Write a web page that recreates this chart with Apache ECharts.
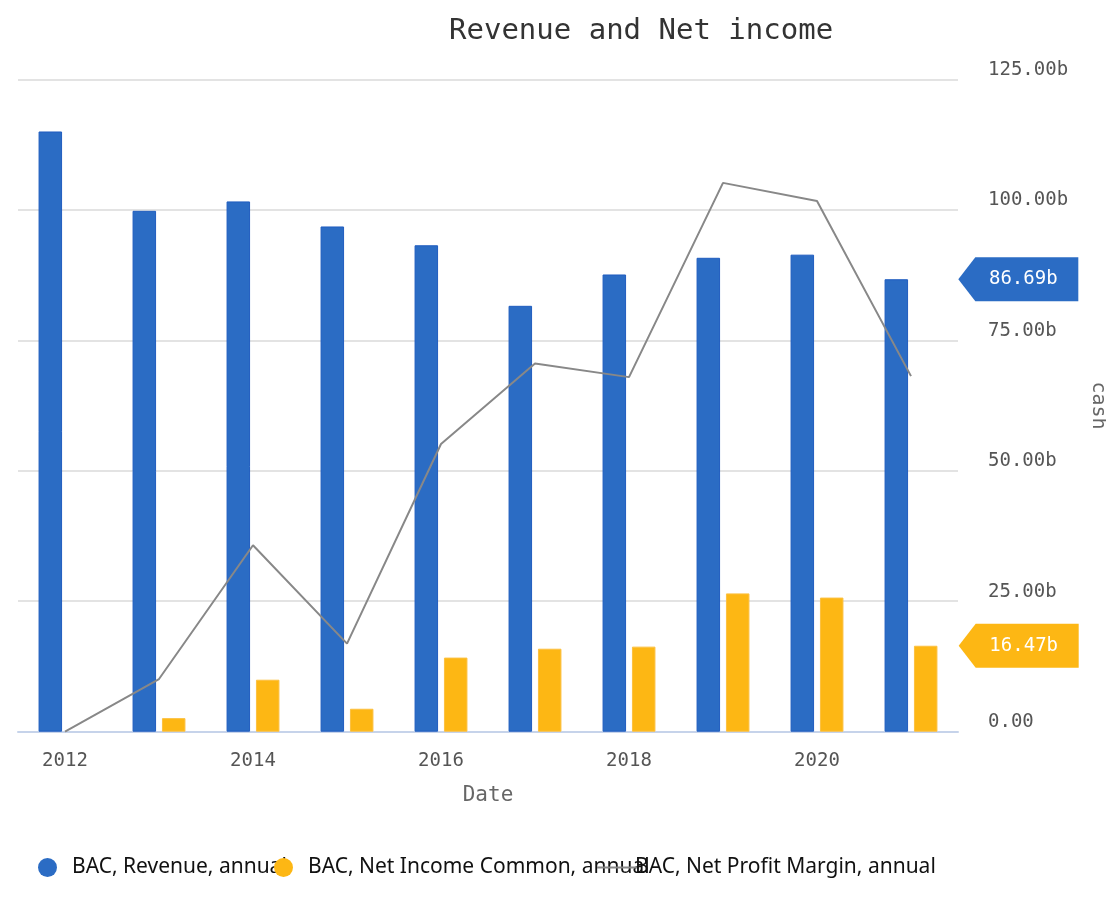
<!DOCTYPE html>
<html>
<head>
<meta charset="utf-8">
<script src="https://cdn.jsdelivr.net/npm/echarts@6/dist/echarts.min.js"></script>
<style>
html,body{margin:0;padding:0;background:#fff;}
#chart{width:1106px;height:914px;}
</style>
</head>
<body>
<div id="chart"></div>
<script>
const years = ['2012','2013','2014','2015','2016','2017','2018','2019','2020','2021'];
const revenue = [115.0, 99.8, 101.6, 96.8, 93.2, 81.6, 87.6, 90.8, 91.4, 86.69];
const netIncome = [null, 2.6, 9.96, 4.4, 14.2, 15.9, 16.3, 26.5, 25.7, 16.47];
const netMargin = [0.0, 3.23, 11.43, 5.40, 17.64, 22.58, 21.74, 33.65, 32.54, 21.80];
const yTicks = { min: 0, max: 125, interval: 25 };

const mono = 'DejaVu Sans Mono';
const blue = '#2b6cc4';
const yellow = '#fdb714';
const tagPath = 'path://M0,22 L17,0 L120,0 L120,44 L17,44 Z';

const chart = echarts.init(document.getElementById('chart'));
const lastIdx = years.length - 1;

function tag(value, color, offX) {
  return {
    silent: true,
    symbol: tagPath,
    symbolSize: [120, 44],
    symbolOffset: [offX, 0],
    itemStyle: { color: color },
    label: {
      show: true, position: 'inside', color: '#fff', fontFamily: mono, fontSize: 19,
      offset: [5, 0],
      formatter: function () { return value.toFixed(2) + 'b'; }
    },
    data: [{ coord: [years[lastIdx], value] }]
  };
}

const legendText = { fontFamily: 'Noto Sans', fontSize: 21, color: '#111', padding: [0, 0, 0, 10] };

const option = {
  backgroundColor: '#fff',
  animation: false,
  title: {
    text: 'Revenue and Net income',
    left: 444, top: 12,
    textStyle: { fontFamily: mono, fontSize: 29, fontWeight: 'normal', color: '#333' }
  },
  legend: [
    {
      data: ['BAC, Revenue, annual'], left: 33, top: 852, icon: 'circle',
      itemWidth: 19, itemHeight: 19, itemGap: 0,
      itemStyle: { borderWidth: 0 },
      textStyle: legendText
    },
    {
      data: ['BAC, Net Income Common, annual'], left: 269, top: 852, icon: 'circle',
      itemWidth: 19, itemHeight: 19, itemGap: 0,
      itemStyle: { borderWidth: 0 },
      textStyle: legendText
    },
    {
      data: ['BAC, Net Profit Margin, annual'], left: 591, top: 852,
      itemWidth: 42, itemHeight: 19, itemGap: 0,
      itemStyle: { opacity: 0 },
      lineStyle: { color: '#888', width: 2 },
      textStyle: Object.assign({}, legendText, { padding: [0, 0, 0, -9] })
    }
  ],
  grid: { left: 18, right: 148, top: 79.3, bottom: 182.3, containLabel: false, outerBoundsMode: 'none' },
  xAxis: {
    type: 'category',
    data: years,
    name: 'Date',
    nameLocation: 'middle',
    nameGap: 53,
    nameTextStyle: { fontFamily: mono, fontSize: 21, color: '#666' },
    axisLine: { lineStyle: { color: '#c6d3ea', width: 2 } },
    axisTick: { alignWithLabel: true, interval: 1, length: 16, lineStyle: { color: '#c6d3ea', width: 2 } },
    axisLabel: { interval: 1, fontFamily: mono, fontSize: 19, color: '#555', margin: 20 }
  },
  yAxis: [
    {
      type: 'value',
      position: 'right',
      min: yTicks.min, max: yTicks.max, interval: yTicks.interval,
      name: 'cash',
      nameLocation: 'middle',
      nameRotate: -90,
      nameGap: 130,
      nameTextStyle: { fontFamily: mono, fontSize: 20, color: '#666' },
      axisLine: { show: false },
      axisTick: { show: false },
      splitLine: { lineStyle: { color: '#e3e3e3', width: 2 } },
      axisLabel: {
        fontFamily: mono, fontSize: 19, color: '#555', margin: 30,
        verticalAlign: 'bottom',
        formatter: function (v) { return v === 0 ? '0.00' : v.toFixed(2) + 'b'; }
      }
    },
    {
      type: 'value', show: false, min: 0, max: 40,
      splitLine: { show: false }
    }
  ],
  series: [
    {
      name: 'BAC, Revenue, annual',
      type: 'bar',
      data: revenue,
      barWidth: 23.5,
      barGap: '25%',
      itemStyle: { color: blue, borderColor: '#1f5cbf', borderWidth: 1, borderRadius: 0 },
      markPoint: tag(revenue[lastIdx], blue, 122)
    },
    {
      name: 'BAC, Net Income Common, annual',
      type: 'bar',
      data: netIncome,
      barWidth: 23.5,
      barGap: '25%',
      itemStyle: { color: yellow, borderColor: '#fcc040', borderWidth: 1, borderRadius: 0 },
      markPoint: tag(netIncome[lastIdx], yellow, 93)
    },
    {
      name: 'BAC, Net Profit Margin, annual',
      type: 'line',
      yAxisIndex: 1,
      data: netMargin,
      symbol: 'none',
      z: 5,
      lineStyle: { color: '#888', width: 2 },
      itemStyle: { color: '#888' }
    }
  ]
};
chart.setOption(option);
</script>
</body>
</html>
